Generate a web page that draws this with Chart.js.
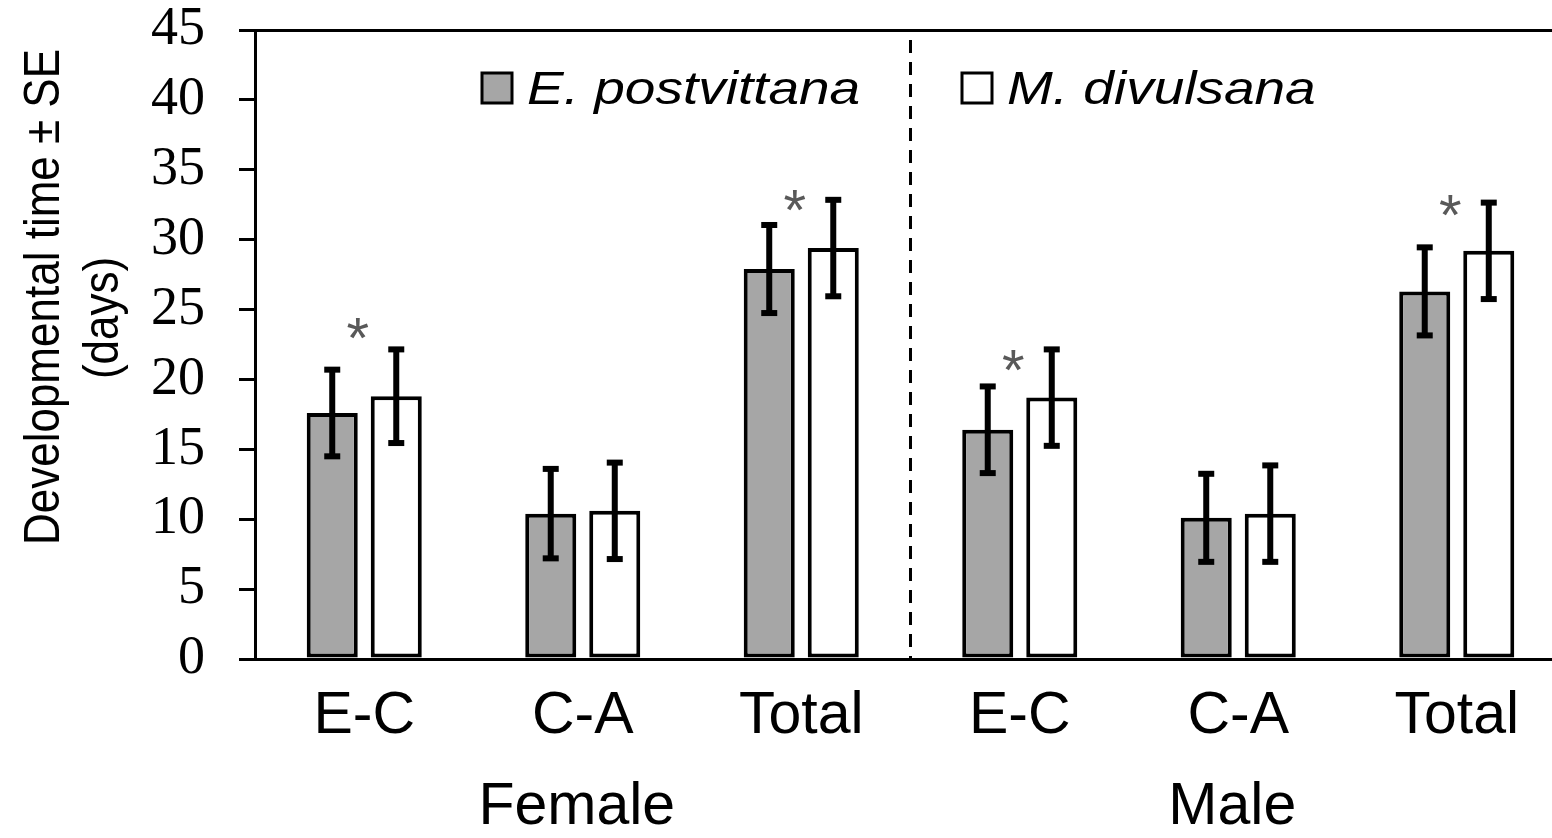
<!DOCTYPE html>
<html>
<head>
<meta charset="utf-8">
<script src="https://cdn.jsdelivr.net/npm/chart.js@4/dist/chart.umd.min.js"></script>
<style>
body{margin:0;background:#fff}
#wrap{width:1552px;height:838px;overflow:hidden}
#box{width:1566px;height:838px}
</style>
</head>
<body>
<div id="wrap"><div id="box"><canvas id="chart"></canvas></div></div>
<script>
// developmental time (days) per stage, two species, by sex
const stages=["E-C","C-A","Total","E-C","C-A","Total"];
const sexes=["Female","Male"];
const species=["E. postvittana","M. divulsana"];
const epost=[17.6,10.4,27.9,16.4,10.1,26.3];
const epostSE=[3.1,3.2,3.15,3.1,3.15,3.15];
const mdiv=[18.8,10.6,29.4,18.7,10.4,29.2];
const mdivSE=[3.35,3.45,3.45,3.45,3.45,3.45];
// height (days) at which the significance star sits, null = no star
const starAt=[23.5,null,32.6,21.2,null,32.3];

const SANS="'Liberation Sans', Arial, sans-serif";
const SERIF="'Liberation Serif', 'Times New Roman', serif";
const errs=[epostSE,mdivSE];

const errorBars={
 id:"errorBars",
 afterDatasetsDraw(chart){
  const c=chart.ctx, y=chart.scales.y;
  c.save();
  c.fillStyle="#000";
  chart.data.datasets.forEach((ds,i)=>{
   chart.getDatasetMeta(i).data.forEach((bar,j)=>{
    const v=ds.data[j], se=errs[i][j];
    const t=y.getPixelForValue(v+se), b=y.getPixelForValue(v-se);
    c.fillRect(bar.x-3,t,6,b-t);
    c.fillRect(bar.x-8,t-3,16,6);
    c.fillRect(bar.x-8,b-3,16,6);
   });
  });
  // stars next to the first species' bars
  c.fillStyle="#595959";
  c.font="58px "+SANS;
  c.textAlign="center";
  c.textBaseline="middle";
  chart.getDatasetMeta(0).data.forEach((bar,j)=>{
   if(starAt[j]==null)return;
   c.fillText("*",bar.x+bar.width/2,y.getPixelForValue(starAt[j])+11);
  });
  c.restore();
 }
};

const decor={
 id:"decor",
 beforeDatasetsDraw(chart){
  const c=chart.ctx, a=chart.chartArea, x=chart.scales.x;
  const mid=(x.getPixelForValue(2)+x.getPixelForValue(3))/2;
  c.save();
  c.strokeStyle="#000";
  c.lineWidth=3;
  c.setLineDash([13,9]);
  c.beginPath();
  c.moveTo(mid,a.top+10);
  c.lineTo(mid,a.bottom);
  c.stroke();
  c.restore();
 },
 afterDraw(chart){
  const c=chart.ctx, a=chart.chartArea, x=chart.scales.x;
  c.save();
  c.fillStyle="#000";
  // sex labels under the middle stage of each group
  c.font="59px "+SANS;
  c.textAlign="center";
  c.textBaseline="middle";
  sexes.forEach((s,k)=>c.fillText(s,x.getPixelForValue(1+3*k)-6,a.bottom+149));
  // legend
  const lx=[a.left+227,a.left+707];
  chart.data.datasets.forEach((ds,i)=>{
   const bx=lx[i], by=a.top+43;
   c.fillStyle=ds.backgroundColor;
   c.fillRect(bx,by,30,30);
   c.lineWidth=3;
   c.strokeStyle="#000";
   c.strokeRect(bx,by,30,30);
   c.save();
   c.translate(bx+45,by+31);
   c.scale(1.17,1);
   c.fillStyle="#000";
   c.font="italic 47px "+SANS;
   c.textAlign="left";
   c.textBaseline="alphabetic";
   c.fillText(ds.label,0,0);
   c.restore();
  });
  // y axis title
  const title=[["Developmental time \u00b1 SE",45,297],["(days)",104,318]];
  c.fillStyle="#000";
  c.font="50px "+SANS;
  c.textAlign="center";
  c.textBaseline="middle";
  title.forEach(([t,tx,ty])=>{
   c.save();
   c.translate(tx,ty);
   c.rotate(-Math.PI/2);
   c.scale(0.88,1);
   c.fillText(t,0,0);
   c.restore();
  });
  c.restore();
 }
};

const ctx=document.getElementById("chart").getContext("2d");
new Chart(ctx,{
 type:"bar",
 data:{
  labels:stages,
  datasets:[
   {label:species[0],data:epost,backgroundColor:"#a6a6a6",borderColor:"#000",borderWidth:4,borderSkipped:false},
   {label:species[1],data:mdiv,backgroundColor:"#ffffff",borderColor:"#000",borderWidth:4,borderSkipped:false}
  ]
 },
 options:{
  responsive:true,
  maintainAspectRatio:false,
  animation:false,
  events:[],
  layout:{padding:{top:30,left:0,right:0,bottom:0}},
  datasets:{bar:{categoryPercentage:0.586,barPercentage:0.797}},
  plugins:{legend:{display:false},tooltip:{enabled:false}},
  scales:{
   x:{
    grid:{display:false,drawTicks:false},
    border:{display:true,color:"#000",width:3},
    ticks:{color:"#000",font:{family:SANS,size:59},padding:22,maxRotation:0,autoSkip:false},
    afterFit(s){s.height=179;s.paddingLeft=0;s.paddingRight=0;}
   },
   y:{
    min:0,max:45,
    grid:{
     color:c=>c.tick&&c.tick.value===45?"#000":"rgba(0,0,0,0)",
     tickColor:"#000",lineWidth:3,tickWidth:3,tickLength:16,drawTicks:true
    },
    border:{display:true,color:"#000",width:3},
    ticks:{stepSize:5,autoSkip:false,color:"#000",font:{family:SERIF,size:54},padding:34},
    afterFit(s){s.width=255;s.paddingTop=0;s.paddingBottom=0;}
   }
  }
 },
 plugins:[errorBars,decor]
});
</script>
</body>
</html>
